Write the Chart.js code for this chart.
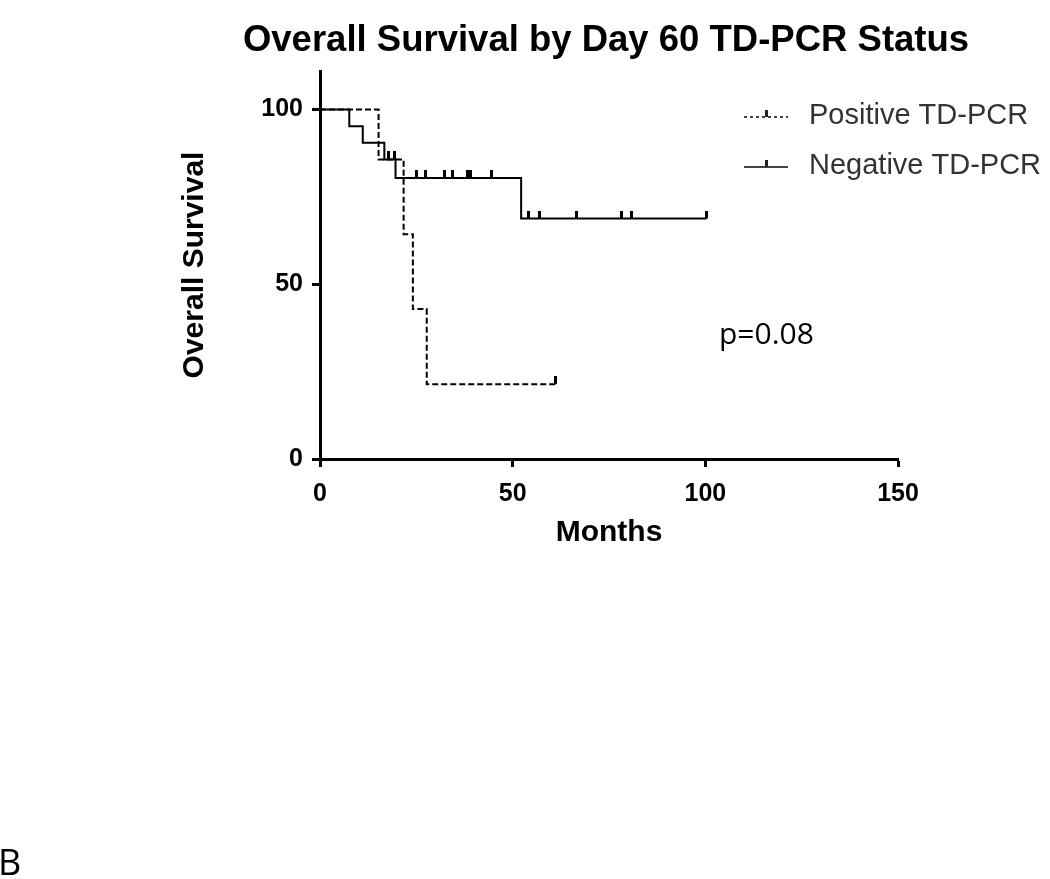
<!DOCTYPE html>
<html>
<head>
<meta charset="utf-8">
<script src="https://cdn.jsdelivr.net/npm/chart.js@4.4.1/dist/chart.umd.min.js"></script>
<style>
  body { margin: 0; background: #fff; }
  #wrap { width: 1050px; height: 879px; }
</style>
</head>
<body>
<div id="wrap"><canvas id="km" width="1050" height="879"></canvas></div>
<script>
// Kaplan-Meier steps (months, % surviving)
const posTimes = [0, 15.2, 21.7, 24.1, 27.7, 61.0];
const posSurv = [100, 85.7, 64.3, 42.9, 21.4, 21.4];
const posCensorT = [61.0];
const posCensorS = [21.4];

const negTimes = [0, 7.6, 11.1, 16.7, 19.6, 52.2, 100.3];
const negSurv = [100, 95.2, 90.5, 85.7, 80.4, 68.8, 68.8];
const negCensorT = [17.9, 19.3, 25.1, 27.3, 32.4, 34.3, 38.3, 39.0, 44.4, 54.2, 56.9, 66.6, 78.2, 80.8, 100.3];
const negCensorS = [85.7, 85.7, 80.4, 80.4, 80.4, 80.4, 80.4, 80.4, 80.4, 68.8, 68.8, 68.8, 68.8, 68.8, 68.8];

const xTicks = [0, 50, 100, 150];
const yTicks = [0, 50, 100];
const seriesNames = ['Positive TD-PCR', 'Negative TD-PCR'];

const FONT = '"Liberation Sans", Arial, sans-serif';

// censor tick: small bar sitting on top of the curve
function censorMark() {
  const c = document.createElement('canvas');
  c.width = 3; c.height = 16;
  const g = c.getContext('2d');
  g.fillStyle = '#000';
  g.fillRect(0, 0, 3, 8);
  return c;
}
const mark = censorMark();

function toPoints(xs, ys) {
  return xs.map((x, i) => ({ x: x, y: ys[i] }));
}

/* title, legend and side notes drawn on top of the chart */
const extras = {
  id: 'extras',
  afterDraw(chart) {
    const ctx = chart.ctx;
    ctx.save();
    ctx.fillStyle = '#000';
    ctx.textBaseline = 'middle';
    ctx.textAlign = 'center';
    ctx.font = 'bold 36.5px ' + FONT;
    ctx.fillText('Overall Survival by Day 60 TD-PCR Status', 606, 41);

    // legend
    ctx.textAlign = 'left';
    ctx.font = '29px ' + FONT;
    const rows = [116, 166];
    rows.forEach((ly, i) => {
      ctx.strokeStyle = '#444';
      ctx.lineWidth = 2;
      ctx.setLineDash(i === 0 ? [3, 3] : []);
      ctx.beginPath();
      ctx.moveTo(744, ly + 1);
      ctx.lineTo(788, ly + 1);
      ctx.stroke();
      ctx.setLineDash([]);
      ctx.fillStyle = '#222';
      ctx.fillRect(765, ly - 6, 3, 7);
      ctx.fillStyle = '#333';
      ctx.fillText(seriesNames[i], 809, ly);
    });

    ctx.fillStyle = '#000';
    ctx.font = '30px "Open Sans", sans-serif';
    ctx.textBaseline = 'alphabetic';
    ctx.fillText('p=0.08', 719, 344);
    ctx.font = '36px "Open Sans", sans-serif';
    ctx.fillText('B', -2, 875);
    ctx.restore();
  }
};

let kmChart = new Chart(document.getElementById('km').getContext('2d'), {
  type: 'line',
  data: {
    datasets: [{
      label: seriesNames[0],
      data: toPoints(posTimes, posSurv),
      borderColor: '#000',
      borderWidth: 2,
      borderDash: [6, 3],
      stepped: 'before',
      pointRadius: 0,
      fill: false
    }, {
      label: seriesNames[1],
      data: toPoints(negTimes, negSurv),
      borderColor: '#000',
      borderWidth: 2,
      stepped: 'before',
      pointRadius: 0,
      fill: false
    }, {
      type: 'scatter',
      label: seriesNames[0] + ' censored',
      data: toPoints(posCensorT, posCensorS),
      pointStyle: mark,
      pointRadius: 8
    }, {
      type: 'scatter',
      label: seriesNames[1] + ' censored',
      data: toPoints(negCensorT, negCensorS),
      pointStyle: mark,
      pointRadius: 8
    }]
  },
  options: {
    responsive: false,
    animation: false,
    devicePixelRatio: 1,
    layout: { padding: { left: 177, right: 152, top: 71, bottom: 328 } },
    plugins: {
      legend: { display: false },
      title: { display: false },
      tooltip: { enabled: false }
    },
    scales: {
      x: {
        type: 'linear',
        min: 0,
        max: 150,
        afterFit: s => { s.height = 92; },
        afterBuildTicks: s => { s.ticks = xTicks.map(v => ({ value: v })); },
        grid: { display: true, drawOnChartArea: false, drawTicks: true, tickLength: 8, tickWidth: 3, color: '#000' },
        border: { display: true, width: 3, color: '#000' },
        ticks: { color: '#000', padding: 12, maxRotation: 0, font: { family: FONT, size: 25, weight: 'bold' } },
        title: { display: true, text: 'Months', color: '#000', padding: 0, font: { family: FONT, size: 30, weight: 'bold' } }
      },
      y: {
        min: 0,
        max: 111,
        afterFit: s => { s.width = 143; },
        afterBuildTicks: s => { s.ticks = yTicks.map(v => ({ value: v })); },
        grid: { display: true, drawOnChartArea: false, drawTicks: true, tickLength: 8, tickWidth: 3, color: '#000' },
        border: { display: true, width: 3, color: '#000' },
        ticks: { color: '#000', padding: 9, font: { family: FONT, size: 25, weight: 'bold' } },
        title: { display: true, text: 'Overall Survival', color: '#000', padding: 0, font: { family: FONT, size: 30, weight: 'bold' } }
      }
    }
  },
  plugins: [extras]
});
</script>
</body>
</html>
